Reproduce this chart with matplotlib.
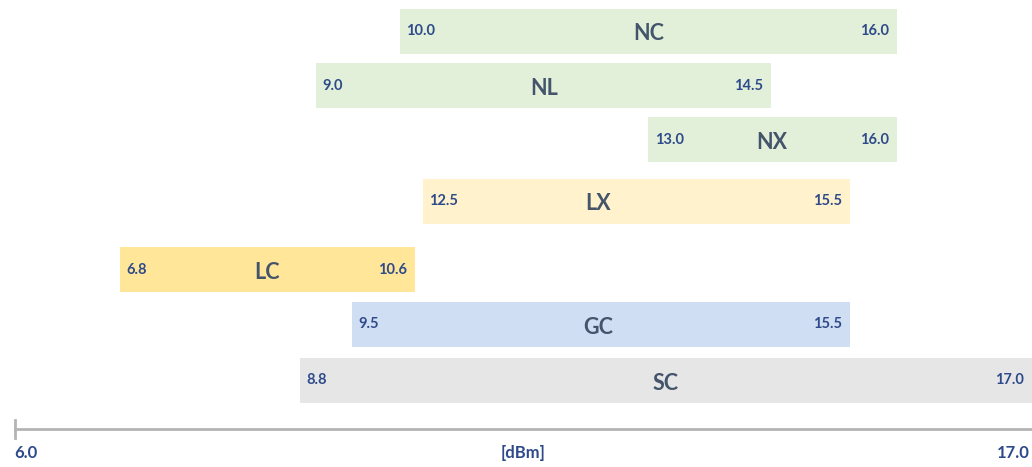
import matplotlib.pyplot as plt

# rows, top to bottom
names = ['NC', 'NL', 'NX', 'LX', 'LC', 'GC', 'SC']
# drawn extent of each bar on the dBm axis (the chart is schematic)
bar_lo = [10.16, 9.26, 12.85, 10.41, 7.14, 9.65, 9.08]
bar_hi = [15.54, 14.18, 15.54, 15.03, 10.33, 15.03, 17.00]
# printed range values
lo_labels = ['10.0', '9.0', '13.0', '12.5', '6.8', '9.5', '8.8']
hi_labels = ['16.0', '14.5', '16.0', '15.5', '10.6', '15.5', '17.0']
# where the name sits on each bar
name_at = [12.85, 11.72, 14.19, 12.31, 8.73, 12.31, 13.04]
colors = ['#E2F0D9', '#E2F0D9', '#E2F0D9', '#FFF2CC', '#FFE699', '#D0DEF3', '#E7E6E6']
axis_min, axis_max = 6.0, 17.0

plt.rcParams['font.family'] = ['Lato', 'DejaVu Sans']
num_color = '#2E4A8A'
name_color = '#44546A'

fig = plt.figure(figsize=(10.32, 4.67), dpi=100)
ax = fig.add_axes([0, 0, 1, 1])
ax.set_xlim(axis_min - 15 * (axis_max - axis_min) / 1017, axis_max)
ax.set_ylim(467, 0)
ax.axis('off')

# vertical layout of the rows (pixel rows from the top)
row_y = [31, 85.5, 139.5, 201, 269.5, 324.5, 380]
bar_h = 45

widths = [h - l for l, h in zip(bar_lo, bar_hi)]
ax.barh(row_y, widths, left=bar_lo, height=bar_h, color=colors, edgecolor='none')

for i in range(len(names)):
    ax.annotate(lo_labels[i], (bar_lo[i], row_y[i]), xytext=(4.5, 0),
                textcoords='offset points', ha='left', va='center',
                fontsize=10.5, fontweight='bold', color=num_color)
    ax.annotate(hi_labels[i], (bar_hi[i], row_y[i]), xytext=(-6, 0),
                textcoords='offset points', ha='right', va='center',
                fontsize=10.5, fontweight='bold', color=num_color)
    ax.text(name_at[i], row_y[i] + 3, names[i], ha='center', va='center',
            fontsize=15.5, fontweight='bold', color=name_color)

# axis line with a tick at the start
ax.plot([axis_min, axis_max + 1], [429, 429], color='#B4B4B4', lw=2, clip_on=False)
ax.plot([axis_min, axis_min], [420, 438], color='#B4B4B4', lw=2)

ax.text(axis_min - 0.01, 453, '6.0', ha='left', va='center', fontsize=12,
        fontweight='bold', color=num_color)
ax.text(axis_max - 0.02, 453, '17.0', ha='right', va='center', fontsize=12,
        fontweight='bold', color=num_color)
ax.text(11.49, 453, '[dBm]', ha='center', va='center', fontsize=12,
        fontweight='bold', color=num_color)

fig.savefig('out.png', dpi=100)
